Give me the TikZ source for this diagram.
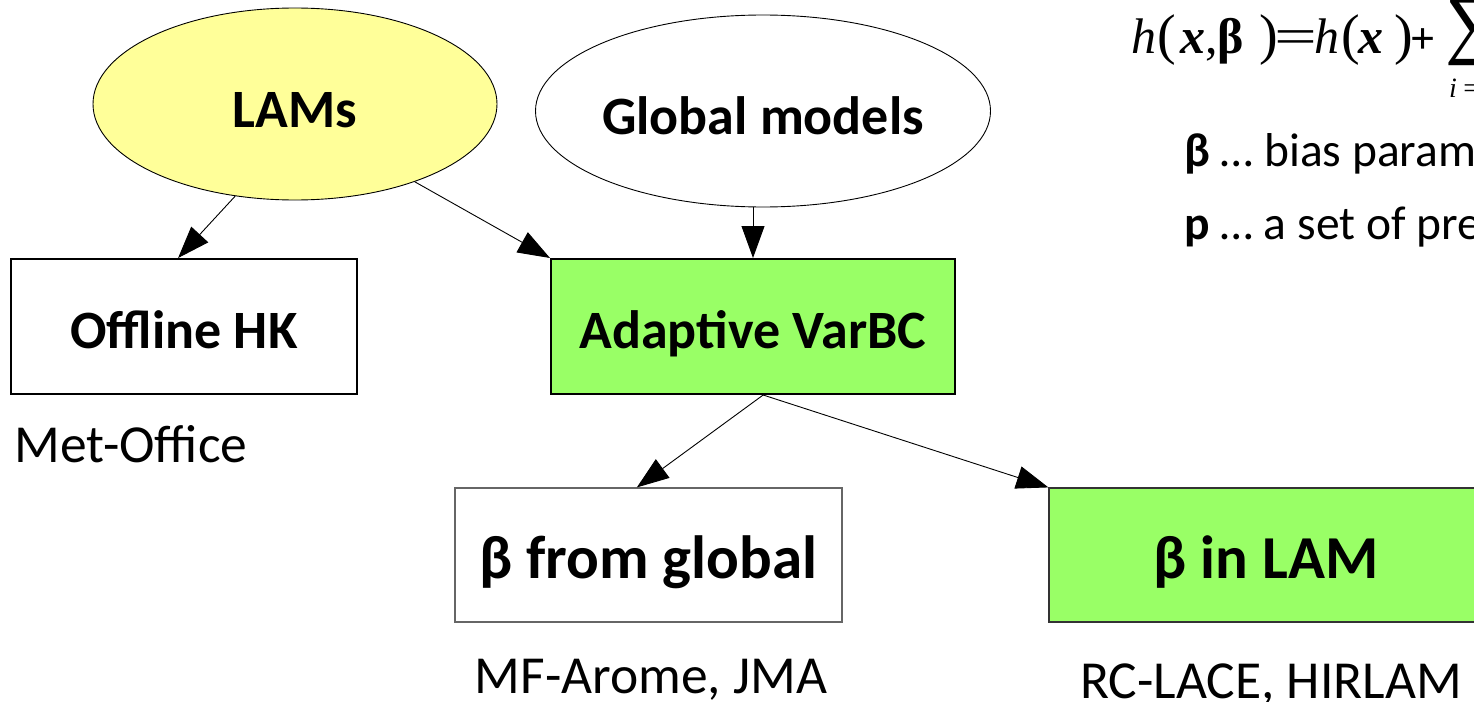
\documentclass[tikz,border=0pt]{standalone}
\usepackage{fontspec}
\usepackage{graphicx}
\setmainfont{Carlito}
\newfontfamily\serf{Liberation Serif}
\usetikzlibrary{shapes.geometric,arrows.meta,calc}
\definecolor{lamyellow}{HTML}{FFFF99}
\definecolor{vargreen}{HTML}{99FF66}
\begin{document}
\begin{tikzpicture}[x=1pt,y=-1pt,
  ell/.style={ellipse,draw=black,line width=0.9pt,inner sep=0pt,minimum width=404pt,minimum height=192pt,font=\fontsize{54}{60}\selectfont\bfseries,text height=46pt,text depth=0pt},
  thickbox/.style={rectangle,draw=black,line width=2pt,inner sep=0pt,minimum height=135pt,font=\fontsize{54}{60}\selectfont\bfseries,text height=43pt,text depth=0pt},
  thinbox/.style={rectangle,line width=1.2pt,inner sep=0pt,minimum height=134pt,font=\fontsize{61}{70}\selectfont\bfseries,text height=46pt,text depth=0pt},
  arr/.style={-{Triangle[length=32pt,width=23pt]},line width=0.9pt},
  lbl/.style={anchor=base,inner sep=0pt,font=\fontsize{53.5}{60}\selectfont},
  side/.style={anchor=base west,inner sep=0pt,font=\fontsize{47.5}{52}\selectfont},
  fm/.style={anchor=base west,inner sep=0pt,font=\serf\fontsize{50}{55}\selectfont},
  fp/.style={anchor=base west,inner sep=0pt,font=\serf\fontsize{56}{60}\selectfont},
]
\clip (0,0) rectangle (1474,701);
\fill[white] (0,0) rectangle (1474,701);

% nodes
\node[ell,fill=lamyellow] (lams) at (295,104) {LAMs};
\node[ell,fill=white] (glob) at (763,111) {Global models};
\node[thickbox,fill=white,minimum width=346pt] (off) at (184,326.5) {Offline HK};
\node[thickbox,fill=vargreen,minimum width=404pt] (adapt) at (753,326.5) {Adaptive VarBC};
\node[thinbox,draw=black!60,fill=white,minimum width=387pt] (bglob) at (648.5,555) {β from global};
\node[thinbox,draw=black!80,fill=vargreen,minimum width=434pt] (blam) at (1266,555) {β in LAM};

% labels
\node[lbl] (met) at (131,462) {Met-Office};
\node[lbl] (mf) at (651,693) {MF-Arome, JMA};
\node[lbl] (rc) at (1271,698) {RC-LACE, HIRLAM};

% connectors
\draw[arr] (lams.237) -- ($(off.north west)!0.483!(off.north east)$);
\draw[arr] (lams.327) -- (adapt.north west);
\draw[arr] (adapt.north |- glob.south) -- (adapt.north);
\coordinate (asrc) at ($(adapt.south west)!0.525!(adapt.south east)$);
\draw[arr] (asrc) -- ($(bglob.north west)!0.47!(bglob.north east)$);
\draw[arr] (asrc) -- (blam.north west);

% formula
\node[fm] (f1) at (1131,53) {\itshape h};
\node[fp] (f2) at (1157,53) {(};
\node[fm] (f3) at (1180,53) {\bfseries\itshape x};
\node[fm] (f4) at (1205,53) {,};
\node[fm] (f5) at (1217,53) {\bfseries β};
\node[fp] (f6) at (1259,53) {)};
\node[fm] (f7) at (1274,53) {\scalebox{1.52}[1]{=}};
\node[fm] (f8) at (1314,53) {\itshape h};
\node[fp] (f9) at (1341,53) {(};
\node[fm] (f10) at (1358,53) {\bfseries\itshape x};
\node[fp] (f11) at (1394,53) {)};
\node[anchor=base west,inner sep=0pt,font=\serf\fontsize{44}{50}\selectfont] (f12) at (1410,53) {\bfseries +};
\node[anchor=base west,inner sep=0pt,font=\serf\fontsize{76}{80}\selectfont] (f13) at (1445,50) {∑};
\node[anchor=base west,inner sep=0pt,font=\serf\fontsize{28}{30}\selectfont] (f14) at (1449,97) {\itshape i\,=};

% legend text
\node[side] (t1) at (1184,166) {\textbf{β} … bias parameters};
\node[side] (t2) at (1184,239) {\textbf{p} … a set of predictors};
\end{tikzpicture}
\end{document}
